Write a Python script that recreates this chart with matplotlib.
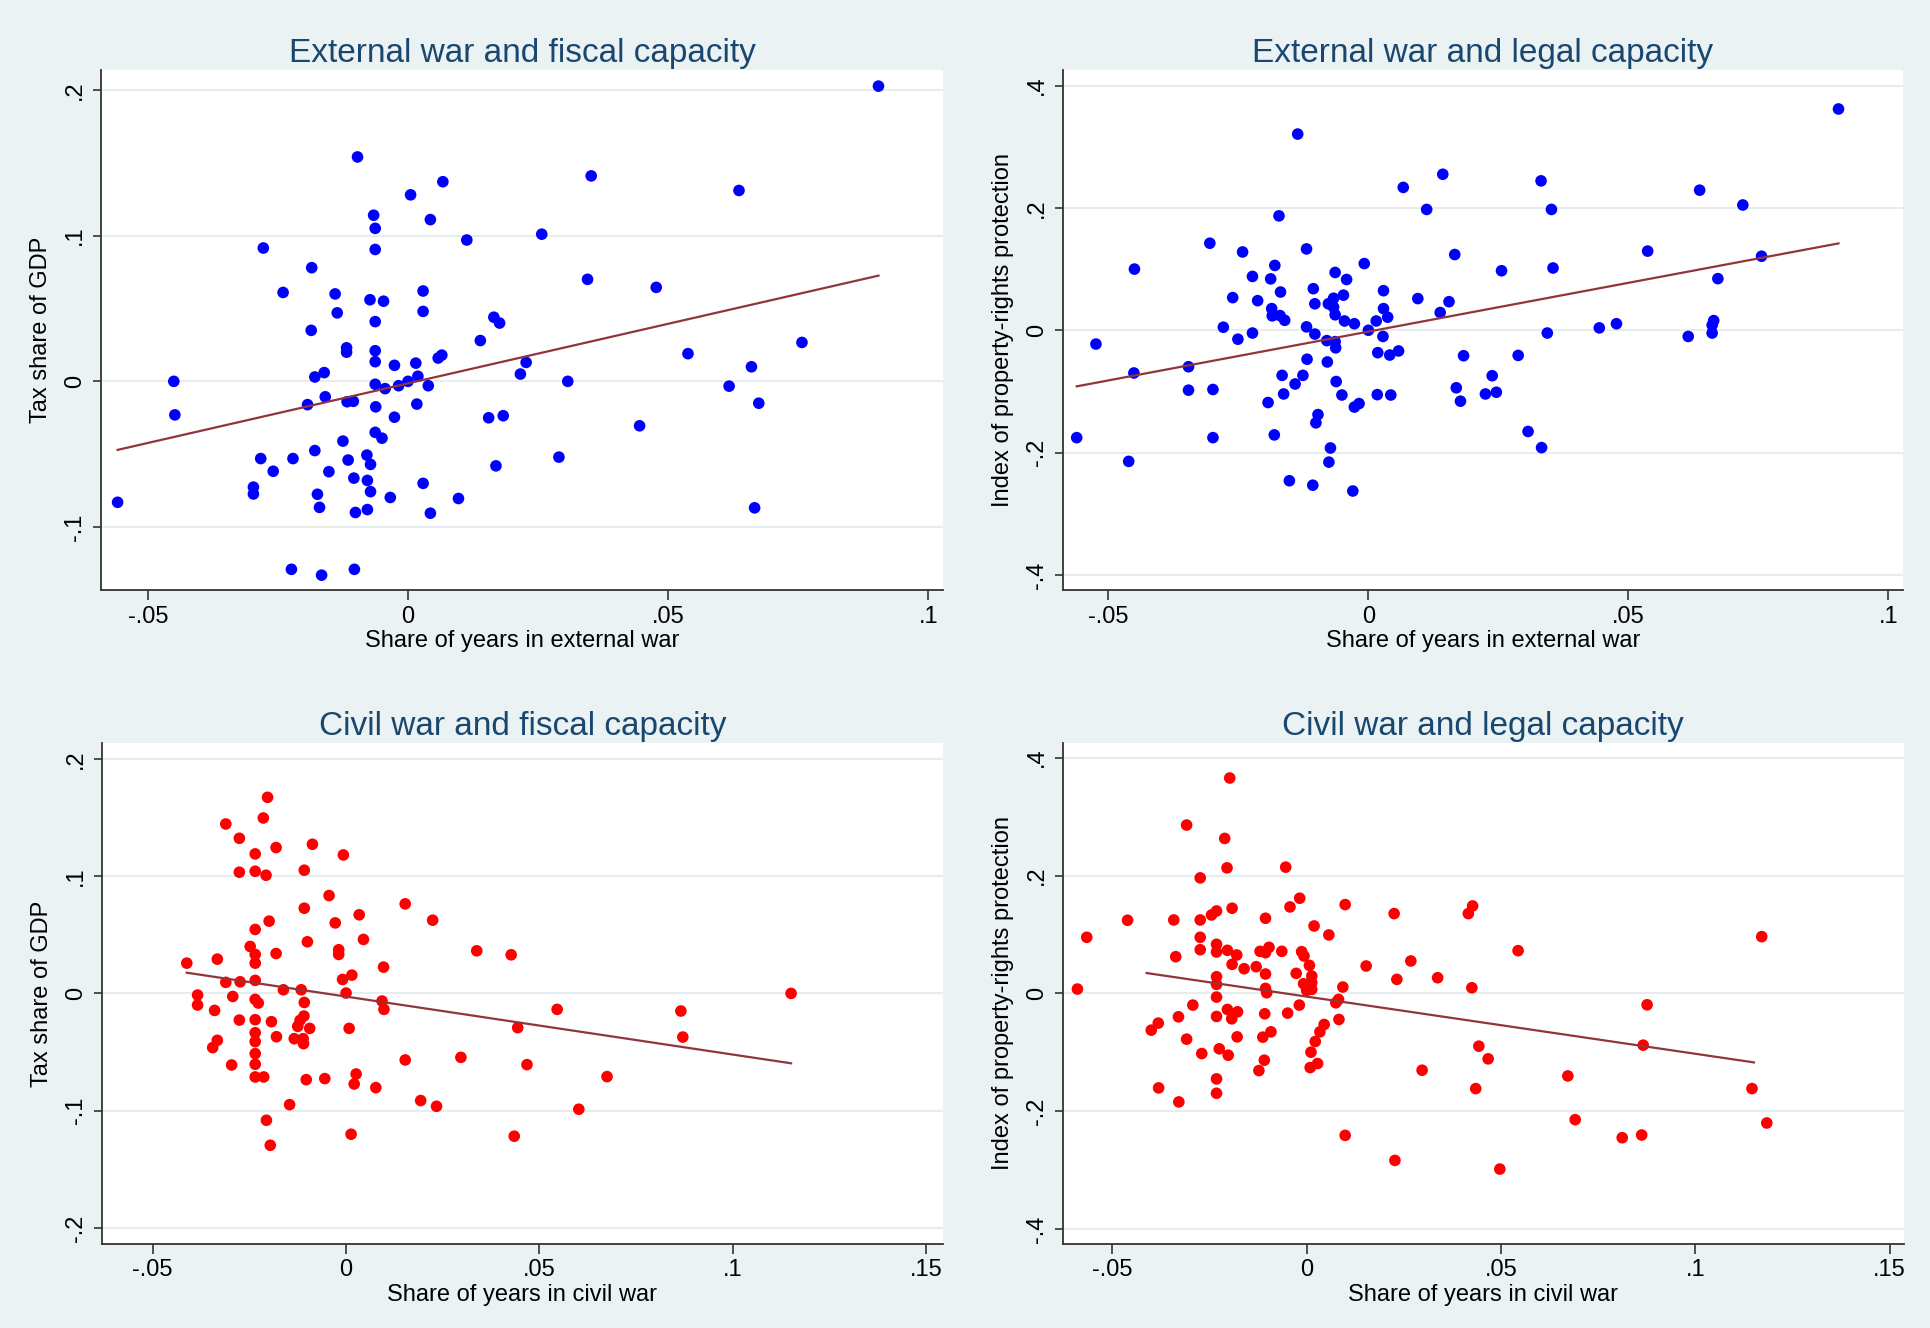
import matplotlib
matplotlib.use("Agg")
from matplotlib import pyplot as plt
from matplotlib.ticker import FuncFormatter
import numpy as np

plt.rcParams['font.family'] = ['Liberation Sans', 'DejaVu Sans']

# --- data ---
ext_fiscal_x = [-0.0097, 0.0067, 0.0005, -0.0066, -0.0063, 0.0043, 0.0113, 0.0257, -0.0278, -0.0063,
                -0.0185, -0.0240, -0.0140, -0.0073, -0.0047, 0.0029, -0.0136, 0.0029, -0.0063, 0.0165,
                0.0176, -0.0186, 0.0139, -0.0118, -0.0118, -0.0063, -0.0063, -0.0026, 0.0015, 0.0058,
                0.0065, 0.0227, 0.0216, -0.0450, -0.0179, -0.0161, -0.0063, -0.0044, -0.0018, 0.0000,
                0.0019, 0.0039, -0.0448, -0.0159, -0.0193, -0.0117, -0.0105, -0.0062, 0.0017, -0.0026,
                0.0155, 0.0183, -0.0063, -0.0050, -0.0125, -0.0179, -0.0283, -0.0221, -0.0079, -0.0115,
                -0.0072, -0.0259, -0.0152, 0.0169, -0.0297, -0.0297, -0.0104, -0.0078, -0.0072, -0.0174,
                -0.0034, 0.0029, 0.0097, -0.0558, -0.0170, -0.0101, -0.0078, 0.0043, -0.0224, -0.0166,
                -0.0103,
                0.0904, 0.0352, 0.0636, 0.0345, 0.0477, 0.0757, 0.0538, 0.0660, 0.0307, 0.0617,
                0.0674, 0.0445, 0.0290, 0.0666]
ext_fiscal_y = [0.154, 0.137, 0.128, 0.114, 0.105, 0.111, 0.097, 0.101, 0.0915, 0.0905,
                0.078, 0.061, 0.060, 0.056, 0.055, 0.062, 0.047, 0.048, 0.041, 0.044,
                0.040, 0.035, 0.028, 0.023, 0.020, 0.021, 0.0135, 0.011, 0.0125, 0.016,
                0.018, 0.013, 0.005, 0.000, 0.003, 0.006, -0.002, -0.005, -0.003, 0.000,
                0.0035, -0.003, -0.023, -0.0106, -0.016, -0.014, -0.0137, -0.0175, -0.0156, -0.0246,
                -0.025, -0.0236, -0.035, -0.039, -0.041, -0.0475, -0.053, -0.053, -0.0506, -0.054,
                -0.057, -0.0617, -0.062, -0.058, -0.0726, -0.0773, -0.0664, -0.068, -0.0757, -0.0775,
                -0.0797, -0.070, -0.0804, -0.083, -0.0865, -0.090, -0.088, -0.0905, -0.129, -0.133,
                -0.129,
                0.2026, 0.141, 0.131, 0.070, 0.0645, 0.0267, 0.019, 0.010, 0.000, -0.0033,
                -0.015, -0.0305, -0.052, -0.0868]

ext_legal_x = [-0.0136, 0.0143, 0.0067, 0.0112, -0.0172, -0.0305, -0.0119, -0.0242, 0.0166, -0.0450,
               -0.0008, -0.0180, -0.0223, -0.0188, -0.0064, -0.0042, -0.0169, -0.0106, 0.0029, -0.0261,
               -0.0213, 0.0095, 0.0155, -0.0067, -0.0048, -0.0103, -0.0077, -0.0067, -0.0186, 0.0029,
               0.0138, -0.0185, -0.0170, -0.0161, -0.0064, -0.0046, -0.0027, 0.0015, 0.0037, -0.0279,
               -0.0119, 0.0000, -0.0223, -0.0251, -0.0103, -0.0080, -0.0064, -0.0063, 0.0028, -0.0524,
               0.0018, 0.0041, 0.0058, 0.0183, -0.0346, -0.0451, -0.0118, -0.0079, -0.0166, -0.0126,
               -0.0141, -0.0062, -0.0346, -0.0299, -0.0163, -0.0051, 0.0017, 0.0043, 0.0169, 0.0177,
               -0.0193, -0.0027, -0.0018, -0.0097, -0.0101, -0.0561, -0.0299, -0.0181, -0.0073, -0.0076,
               -0.0461, -0.0152, -0.0107, -0.0030,
               0.0904, 0.0332, 0.0637, 0.0352, 0.0720, 0.0537, 0.0756, 0.0256, 0.0355, 0.0672,
               0.0344, 0.0444, 0.0477, 0.0664, 0.0661, 0.0661, 0.0615, 0.0288, 0.0238, 0.0225,
               0.0246, 0.0307, 0.0333]
ext_legal_y = [0.3207, 0.255, 0.2335, 0.1975, 0.187, 0.1423, 0.133, 0.128, 0.1238, 0.100,
               0.109, 0.106, 0.088, 0.084, 0.0945, 0.083, 0.0625, 0.068, 0.0647, 0.0534,
               0.0484, 0.0518, 0.0467, 0.0523, 0.0574, 0.0433, 0.0433, 0.0377, 0.0354, 0.0354,
               0.029, 0.0236, 0.024, 0.0163, 0.0253, 0.0152, 0.0107, 0.0152, 0.0214, 0.005,
               0.0056, 0.0, -0.0045, -0.0146, -0.0062, -0.0169, -0.0186, -0.0287, -0.0101, -0.0225,
               -0.0366, -0.0405, -0.0338, -0.0416, -0.0596, -0.0698, -0.0473, -0.0518, -0.0737, -0.0737,
               -0.0878, -0.0838, -0.0979, -0.0968, -0.1041, -0.1058, -0.1052, -0.1058, -0.094, -0.1159,
               -0.1181, -0.1255, -0.1198, -0.1378, -0.1513, -0.1755, -0.1755, -0.171, -0.1924, -0.2155,
               -0.2143, -0.2459, -0.2532, -0.2627,
               0.3617, 0.2442, 0.229, 0.1975, 0.2048, 0.1294, 0.121, 0.0973, 0.1018, 0.0844,
               -0.0045, 0.0039, 0.0107, 0.0158, 0.0084, -0.0045, -0.0101, -0.0411, -0.0743, -0.1041,
               -0.1013, -0.1654, -0.1918]

civ_fiscal_x = [-0.0203, -0.0214, -0.0311, -0.0276, -0.0235, -0.0181, -0.0087, -0.0007, -0.0276, -0.0235,
                -0.0207, -0.0108, -0.0044, 0.0153, -0.0108, 0.0034, 0.0224, -0.0199, -0.0028, -0.0235,
                0.0045, -0.0100, -0.0248, 0.0338, 0.0427, -0.0019, -0.0019, -0.0235, -0.0181, -0.0412,
                -0.0333, -0.0235, 0.0097, 0.0015, -0.0009, -0.0311, -0.0274, -0.0235, -0.0162, -0.0116,
                0.0000, -0.0384, -0.0293, -0.0235, -0.0227, -0.0108, 0.0093, -0.0384, 0.0098, -0.0340,
                -0.0109, -0.0119, -0.0276, -0.0235, -0.0193, -0.0125, -0.0094, 0.0008, 0.0444, -0.0235,
                -0.0180, -0.0134, -0.0111, -0.0235, -0.0333, -0.0345, -0.0110, -0.0235, 0.0153, 0.0297,
                -0.0296, -0.0235, 0.0468, -0.0235, -0.0213, -0.0103, -0.0055, 0.0026, 0.0021, 0.0077,
                -0.0146, 0.0193, 0.0234, -0.0206, 0.0013, 0.0435, -0.0196,
                0.1151, 0.0546, 0.0866, 0.0871, 0.0675, 0.0602]
civ_fiscal_y = [0.1671, 0.1495, 0.1444, 0.1322, 0.1189, 0.1243, 0.1271, 0.118, 0.1033, 0.1041,
                0.1007, 0.105, 0.0834, 0.0763, 0.0726, 0.067, 0.0624, 0.0616, 0.0601, 0.0545,
                0.046, 0.044, 0.040, 0.0363, 0.0329, 0.0372, 0.0332, 0.0332, 0.034, 0.0258,
                0.0292, 0.0258, 0.0224, 0.0156, 0.0119, 0.0094, 0.0099, 0.0111, 0.0031, 0.0031,
                0.0003, -0.0014, -0.0026, -0.0051, -0.0082, -0.0077, -0.0065, -0.0099, -0.0136, -0.0145,
                -0.0193, -0.023, -0.0227, -0.0224, -0.0241, -0.0281, -0.0298, -0.0298, -0.0292, -0.0335,
                -0.0369, -0.0386, -0.0386, -0.0411, -0.040, -0.0462, -0.0428, -0.0513, -0.0567, -0.0545,
                -0.061, -0.0604, -0.0607, -0.0712, -0.0712, -0.0735, -0.0726, -0.0687, -0.0772, -0.0803,
                -0.0948, -0.0913, -0.0962, -0.1081, -0.12, -0.1217, -0.1294,
                0.0, -0.0136, -0.015, -0.0372, -0.0709, -0.0987]

civ_legal_x = [-0.0198, -0.0309, -0.0211, -0.0205, -0.0054, -0.0274, -0.0018, -0.0043, 0.0099, 0.0225,
               -0.0192, -0.0232, -0.0245, -0.0461, -0.0342, -0.0274, -0.0106, 0.0427, 0.0416, 0.0019,
               0.0057, -0.0566, -0.0274, -0.0232, -0.0274, -0.0232, -0.0204, -0.0180, -0.0120, -0.0097,
               -0.0106, -0.0064, -0.0013, -0.0007, -0.0337, -0.0192, -0.0161, -0.0130, 0.0007, 0.0153,
               0.0268, -0.0106, -0.0027, 0.0013, 0.0232, 0.0337, -0.0232, -0.0232, -0.0008, 0.0013,
               0.0000, 0.0013, -0.0106, -0.0103, 0.0093, 0.0425, -0.0590, -0.0232, 0.0082, 0.0075,
               -0.0293, -0.0019, -0.0204, -0.0178, -0.0108, -0.0049, -0.0330, -0.0232, -0.0193, 0.0083,
               -0.0382, -0.0400, 0.0045, 0.0034, -0.0092, -0.0113, -0.0179, -0.0309, 0.0022, 0.0443,
               0.0011, -0.0270, -0.0225, -0.0202, -0.0109, 0.0028, 0.0009, -0.0123, 0.0297, -0.0232,
               -0.0381, 0.0435, -0.0232, -0.0329, 0.0099, 0.0227,
               0.0544, 0.1171, 0.0876, 0.0866, 0.0467, 0.0672, 0.1146, 0.0691, 0.1184, 0.0812,
               0.0862, 0.0497]
civ_legal_y = [0.3654, 0.2856, 0.2629, 0.213, 0.2142, 0.196, 0.1615, 0.1467, 0.1507, 0.1354,
               0.1445, 0.1399, 0.1331, 0.1241, 0.1246, 0.1246, 0.1275, 0.1484, 0.1354, 0.1144,
               0.0992, 0.0952, 0.0952, 0.0833, 0.0742, 0.0703, 0.0731, 0.0652, 0.0714, 0.0782,
               0.0691, 0.0714, 0.0708, 0.0635, 0.0623, 0.0493, 0.0419, 0.0453, 0.0476, 0.0465,
               0.055, 0.0329, 0.034, 0.0295, 0.0238, 0.0266, 0.0283, 0.0153, 0.0164, 0.0181,
               0.0051, 0.0068, 0.0085, 0.0011, 0.0108, 0.0096, 0.0074, -0.0062, -0.0102, -0.0159,
               -0.0198, -0.0198, -0.0272, -0.0312, -0.0346, -0.0334, -0.0397, -0.0391, -0.0431, -0.0442,
               -0.0504, -0.0623, -0.0527, -0.0652, -0.0652, -0.0742, -0.0737, -0.0776, -0.0816, -0.0895,
               -0.0997, -0.102, -0.094, -0.1048, -0.1133, -0.119, -0.1258, -0.1309, -0.1303, -0.145,
               -0.1603, -0.1615, -0.1694, -0.1841, -0.2408, -0.2833,
               0.0725, 0.0963, -0.0193, -0.0878, -0.111, -0.14, -0.1615, -0.2142, -0.2198, -0.2448,
               -0.2402, -0.298]

# fitted-line coefficients (intercept, slope)
fit_intercept = [-0.0014, -0.0022, -0.0027, -0.0054]
fit_slope = [0.818, 1.595, -0.494, -0.970]

titles = ["External war and fiscal capacity", "External war and legal capacity",
          "Civil war and fiscal capacity", "Civil war and legal capacity"]
xlabels = ["Share of years in external war", "Share of years in external war",
           "Share of years in civil war", "Share of years in civil war"]
ylabels = ["Tax share of GDP", "Index of property-rights protection",
           "Tax share of GDP", "Index of property-rights protection"]
ext_xticks = [-0.05, 0, 0.05, 0.1]
civ_xticks = [-0.05, 0, 0.05, 0.1, 0.15]
fiscal_yticks_top = [-0.1, 0, 0.1, 0.2]
fiscal_yticks_bot = [-0.2, -0.1, 0, 0.1, 0.2]
legal_yticks = [-0.4, -0.2, 0, 0.2, 0.4]

BG = '#EAF2F3'
NAVY = '#1A476F'
FIT = '#90353B'


def stata_fmt(v, pos=None):
    if abs(v) < 1e-12:
        return "0"
    return f"{v:g}".replace("0.", ".")


fig = plt.figure(figsize=(19.30, 13.28), dpi=100, facecolor=BG)

panels = [
    ([0.0523, 0.5555, 0.4363, 0.3916], ext_fiscal_x, ext_fiscal_y, 'blue', ext_xticks, fiscal_yticks_top,
     (-0.059, 0.1028), (-0.1434, 0.2135), ext_fiscal_x),
    ([0.5506, 0.5555, 0.4354, 0.3916], ext_legal_x, ext_legal_y, 'blue', ext_xticks, legal_yticks,
     (-0.0588, 0.1028), (-0.425, 0.425), ext_legal_x),
    ([0.0527, 0.0633, 0.4359, 0.3773], civ_fiscal_x, civ_fiscal_y, 'red', civ_xticks, fiscal_yticks_bot,
     (-0.0632, 0.1544), (-0.2135, 0.2135), civ_fiscal_x),
    ([0.5506, 0.0633, 0.4359, 0.3773], civ_legal_x, civ_legal_y, 'red', civ_xticks, legal_yticks,
     (-0.0628, 0.1537), (-0.425, 0.425), civ_fiscal_x),
]

for i, (rect, xs, ys, col, xt, yt, xl, yl, fit_sample) in enumerate(panels):
    ax = fig.add_axes(rect)
    ax.set_facecolor('white')

    ax.scatter(xs, ys, s=70, color=col, edgecolors='none', zorder=3)

    # linear fit, drawn across the range of the estimation sample
    fx = np.array([min(fit_sample), max(fit_sample)])
    ax.plot(fx, fit_intercept[i] + fit_slope[i] * fx, color=FIT, linewidth=1.6, zorder=4)

    ax.set_xlim(*xl)
    ax.set_ylim(*yl)
    ax.set_xticks(xt)
    ax.set_yticks(yt)
    ax.xaxis.set_major_formatter(FuncFormatter(stata_fmt))
    ax.yaxis.set_major_formatter(FuncFormatter(stata_fmt))
    ax.grid(axis='y', color='#E4ECEE', linewidth=1.3)
    ax.set_axisbelow(True)

    for side in ['top', 'right']:
        ax.spines[side].set_visible(False)
    for side in ['left', 'bottom']:
        ax.spines[side].set_color('#333333')
        ax.spines[side].set_linewidth(1.3)

    ax.tick_params(axis='both', width=1.2, color='#333333', labelsize=17)
    ax.tick_params(axis='x', length=7, pad=4)
    ax.tick_params(axis='y', length=5.5, pad=5, labelrotation=90)
    for lbl in ax.get_yticklabels():
        lbl.set_va('center')

    ax.set_title(titles[i], fontsize=24, color=NAVY, pad=6)
    ax.set_xlabel(xlabels[i], fontsize=17, labelpad=2)
    ax.set_ylabel(ylabels[i], fontsize=17, labelpad=9)

fig.savefig("out.png", dpi=100, facecolor=BG)
